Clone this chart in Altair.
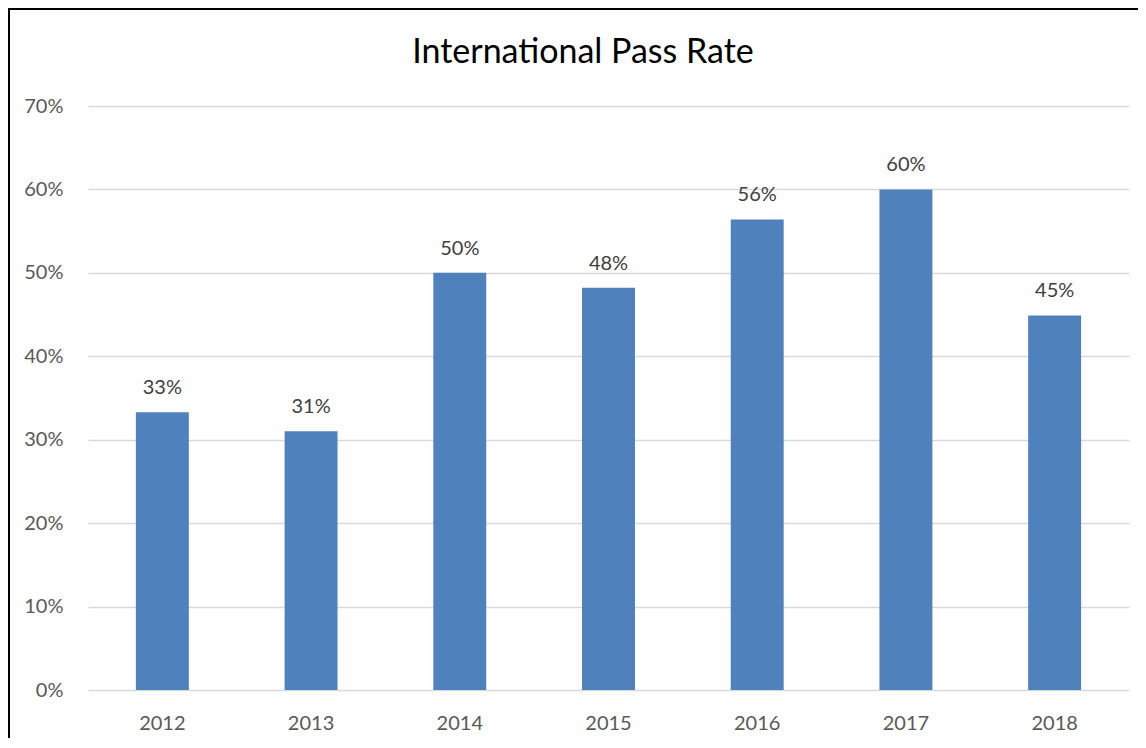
import altair as alt
import pandas as pd

years = ["2012", "2013", "2014", "2015", "2016", "2017", "2018"]
rates = [0.333, 0.310, 0.500, 0.482, 0.564, 0.600, 0.449]
y_ticks = [0.0, 0.1, 0.2, 0.3, 0.4, 0.5, 0.6, 0.7]
title_text = ["International Pass Rate"]

df = pd.DataFrame({"year": years, "rate": rates})
frame_df = pd.DataFrame({"k": [0]})
title_df = pd.DataFrame({"t": title_text})

W, H = 1041, 584
FONT = "Lato"

x_axis = alt.Axis(labelAngle=0, ticks=False, domain=False, grid=False,
                  labelFont=FONT, labelFontSize=20, labelColor="#595959",
                  labelPadding=23)
y_axis = alt.Axis(values=y_ticks, format=".0%", ticks=False, domain=False,
                  gridColor="#D9D9D9", gridWidth=1.5,
                  labelFont=FONT, labelFontSize=20, labelColor="#595959",
                  labelPadding=25)
x_scale = alt.Scale(paddingInner=0.644, paddingOuter=0.322)
y_scale = alt.Scale(domain=[0, 0.7], nice=False)

x_enc = alt.X("year:N", sort=years, title=None, scale=x_scale, axis=x_axis)
y_enc = alt.Y("rate:Q", title=None, scale=y_scale, axis=y_axis)

base = alt.Chart(df)
bars = base.mark_bar(color="#4F81BD").encode(x=x_enc, y=y_enc)
labels = base.mark_text(dy=-18, baseline="alphabetic", font=FONT, fontSize=20,
                        color="#404040").encode(
    x=x_enc, y=y_enc,
    text=alt.Text("rate:Q", format=".0%"),
)

title = alt.Chart(title_df).mark_text(
    font=FONT, fontSize=34, color="#000000", align="center", baseline="alphabetic"
).encode(x=alt.value(495), y=alt.value(-43), text="t:N")

frame = alt.Chart(frame_df).mark_rect(
    fill="transparent", stroke="black", strokeWidth=2
).encode(x=alt.value(-79), x2=alt.value(W + 200),
         y=alt.value(-97), y2=alt.value(H + 200))

chart = alt.layer(bars, labels, title, frame).properties(
    width=W, height=H,
    view=alt.ViewBackground(stroke="transparent", strokeWidth=0),
    autosize=alt.AutoSizeParams(type="none"),
    padding={"left": 80, "top": 98, "right": 9, "bottom": 48},
).configure_view(stroke="transparent", strokeWidth=0).configure(background="white")

chart.save("out.html", embed_options={"renderer": "svg", "actions": False})
